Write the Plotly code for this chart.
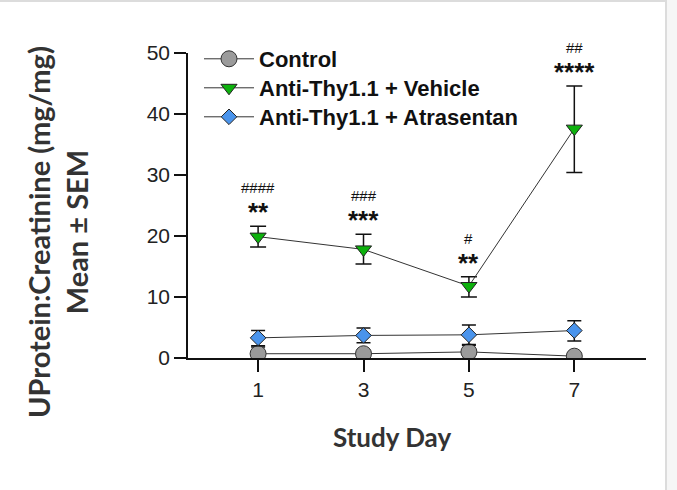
import plotly.graph_objects as go

# ---- data ----
days = [1, 3, 5, 7]
control_mean = [0.7, 0.7, 1.0, 0.3]
control_sem = [1.1, 0.6, 1.1, 0.3]
vehicle_mean = [19.9, 17.8, 11.8, 37.6]
vehicle_sem_plus = [1.7, 2.5, 1.5, 7.0]
vehicle_sem_minus = [1.7, 2.4, 1.8, 7.2]
atras_mean = [3.3, 3.7, 3.8, 4.5]
atras_sem_plus = [1.2, 1.2, 1.6, 1.6]
atras_sem_minus = [1.3, 1.2, 1.6, 1.7]
star_labels = ["**", "***", "**", "****"]
hash_labels = ["####", "###", "#", "##"]
x_ticks = [1, 3, 5, 7]
y_ticks = [0, 10, 20, 30, 40, 50]

W, H = 677, 490
ML, MR, MT, MB = 188, 31, 53, 132
PW, PH = W - ML - MR, H - MT - MB

def px_to_paper_x(px):
    return (px - ML) / PW

def px_to_paper_y(py):
    return (H - MB - py) / PH

ARIAL = "Liberation Sans, Arial, sans-serif"
LATO = "Lato, sans-serif"

fig = go.Figure()

fig.add_trace(go.Scatter(
    x=days, y=control_mean, name="Control", mode="lines+markers", legend="legend",
    line=dict(color="#333333", width=1),
    marker=dict(symbol="circle", size=16, color="#9b9b9b", line=dict(color="#333333", width=1)),
    error_y=dict(type="data", array=control_sem, color="#111111", thickness=1.5, width=7),
))
fig.add_trace(go.Scatter(
    x=days, y=vehicle_mean, name="Anti-Thy1.1 + Vehicle", mode="lines+markers", legend="legend2",
    line=dict(color="#333333", width=1),
    marker=dict(symbol="triangle-down", size=14, color="#0db10d", line=dict(color="#222222", width=1)),
    error_y=dict(type="data", array=vehicle_sem_plus, arrayminus=vehicle_sem_minus,
                 color="#111111", thickness=1.5, width=8),
))
fig.add_trace(go.Scatter(
    x=days, y=atras_mean, name="Anti-Thy1.1 + Atrasentan", mode="lines+markers", legend="legend3",
    line=dict(color="#333333", width=1),
    marker=dict(symbol="diamond", size=12, color="#4a94ec", line=dict(color="#222222", width=1)),
    error_y=dict(type="data", array=atras_sem_plus, arrayminus=atras_sem_minus,
                 color="#111111", thickness=1.5, width=7),
))

annotations = []
for d, m, e, s, h in zip(days, vehicle_mean, vehicle_sem_plus, star_labels, hash_labels):
    top = m + e
    annotations.append(dict(x=d, y=top, xref="x", yref="y", text=s, showarrow=False,
                            yanchor="bottom", yshift=-3,
                            font=dict(family=ARIAL, size=26, color="#111111", weight="bold")))
    annotations.append(dict(x=d, y=top, xref="x", yref="y", text=h, showarrow=False,
                            yanchor="bottom", yshift=28,
                            font=dict(family=ARIAL, size=15, color="#111111")))

annotations.append(dict(
    x=px_to_paper_x(57), y=px_to_paper_y(232), xref="paper", yref="paper",
    text="UProtein:Creatinine (mg/mg)<br>Mean ± SEM", showarrow=False, textangle=-90,
    xanchor="center", yanchor="middle",
    font=dict(family=LATO, size=29, color="#333333", weight="bold")))
annotations.append(dict(
    x=px_to_paper_x(392), y=px_to_paper_y(437), xref="paper", yref="paper",
    text="Study Day", showarrow=False, xanchor="center", yanchor="middle",
    font=dict(family=LATO, size=26, color="#333333", weight="bold")))

shapes = [
    dict(type="rect", xref="paper", yref="paper",
         x0=px_to_paper_x(666), x1=px_to_paper_x(W), y0=px_to_paper_y(H), y1=px_to_paper_y(0),
         fillcolor="#f6f6f6", line=dict(width=0), layer="below"),
    dict(type="line", xref="paper", yref="paper",
         x0=px_to_paper_x(666), x1=px_to_paper_x(666), y0=px_to_paper_y(H), y1=px_to_paper_y(0),
         line=dict(color="#dcdcdc", width=2)),
    dict(type="line", xref="paper", yref="paper",
         x0=px_to_paper_x(0), x1=px_to_paper_x(666), y0=px_to_paper_y(1), y1=px_to_paper_y(1),
         line=dict(color="#dcdcdc", width=2)),
]

def legend_at(row_center_px):
    return dict(x=px_to_paper_x(199), y=px_to_paper_y(row_center_px), xanchor="left", yanchor="middle",
                font=dict(family=ARIAL, size=22, color="#111111", weight="bold"),
                bgcolor="rgba(0,0,0,0)", itemwidth=50)

fig.update_layout(
    width=W, height=H,
    margin=dict(l=ML, r=MR, t=MT, b=MB),
    paper_bgcolor="white", plot_bgcolor="white",
    showlegend=True,
    legend=legend_at(59),
    legend2=legend_at(88),
    legend3=legend_at(117),
    annotations=annotations,
    shapes=shapes,
    xaxis=dict(range=[-0.33, 8.36], tickvals=x_ticks, ticktext=[str(t) for t in x_ticks],
               showline=True, linecolor="#111111", linewidth=1.5, showgrid=False, zeroline=False,
               ticks="outside", ticklen=12, tickwidth=1.5, tickcolor="#111111",
               tickfont=dict(family=ARIAL, size=21, color="#222222")),
    yaxis=dict(range=[0, 50], tickvals=y_ticks, showline=True, linecolor="#111111", linewidth=1.5,
               showgrid=False, zeroline=False, ticks="outside", ticklen=12, tickwidth=1.5,
               tickcolor="#111111", tickfont=dict(family=ARIAL, size=21, color="#222222")),
)

fig.write_html("out.html")
